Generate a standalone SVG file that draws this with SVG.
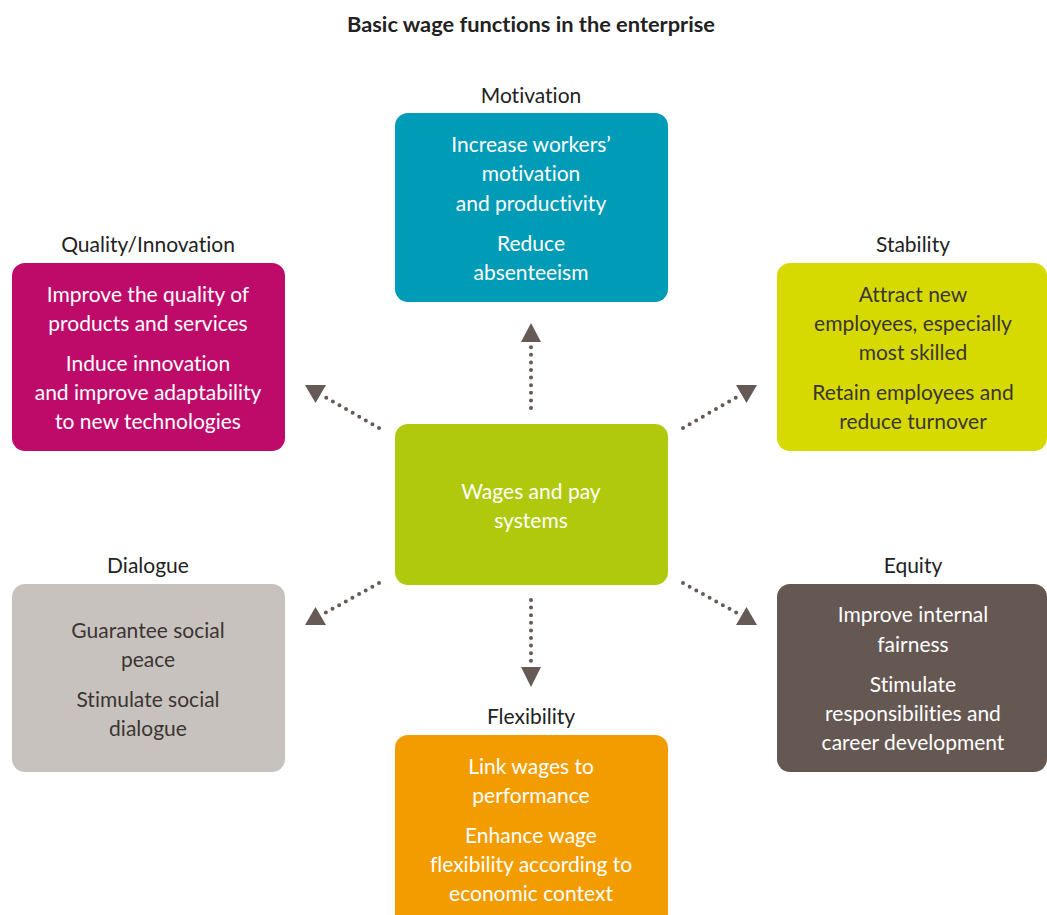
<svg xmlns="http://www.w3.org/2000/svg" width="1047" height="915" viewBox="0 0 1047 915">
<style>
text{font-variant-ligatures:none;font-feature-settings:"liga" 0,"dlig" 0}
.t{font-family:Lato,"Open Sans","Liberation Sans",sans-serif;font-size:21px;text-anchor:middle}
.w{fill:#ffffff}
.d{fill:#3b3533}
.lbl{fill:#222222}
.title{font-family:Lato,"Open Sans","Liberation Sans",sans-serif;font-size:21.8px;font-weight:bold;text-anchor:middle;fill:#222222}
.dot{fill:none;stroke:#655a55;stroke-width:4;stroke-linecap:round;stroke-dasharray:0 7.6}
.head{fill:#655a55}
</style>
<rect width="1047" height="915" fill="#ffffff"/>
<text class="title" x="531" y="32">Basic wage functions in the enterprise</text>

<g id="motivation">
<text class="t lbl" x="531" y="103">Motivation</text>
<rect x="395" y="113" width="273" height="189" rx="13" fill="#009bb6"/>
<text class="t w" x="531" y="152">Increase workers’</text>
<text class="t w" x="531" y="181">motivation</text>
<text class="t w" x="531" y="211">and productivity</text>
<text class="t w" x="531" y="251">Reduce</text>
<text class="t w" x="531" y="280">absenteeism</text>
</g>

<g id="quality">
<text class="t lbl" x="148" y="252">Quality/Innovation</text>
<rect x="12" y="263" width="273" height="188" rx="13" fill="#be0b6a"/>
<text class="t w" x="148" y="302">Improve the quality of</text>
<text class="t w" x="148" y="331">products and services</text>
<text class="t w" x="148" y="371">Induce innovation</text>
<text class="t w" x="148" y="400">and improve adaptability</text>
<text class="t w" x="148" y="429">to new technologies</text>
</g>

<g id="stability">
<text class="t lbl" x="913" y="252">Stability</text>
<rect x="777" y="263" width="270" height="188" rx="13" fill="#d6da00"/>
<text class="t d" x="913" y="302">Attract new</text>
<text class="t d" x="913" y="331">employees, especially</text>
<text class="t d" x="913" y="360">most skilled</text>
<text class="t d" x="913" y="400">Retain employees and</text>
<text class="t d" x="913" y="429">reduce turnover</text>
</g>

<g id="center">
<rect x="395" y="424" width="273" height="161" rx="13" fill="#b0c90c"/>
<text class="t w" x="531" y="499">Wages and pay</text>
<text class="t w" x="531" y="528">systems</text>
</g>

<g id="dialogue">
<text class="t lbl" x="148" y="573">Dialogue</text>
<rect x="12" y="584" width="273" height="188" rx="13" fill="#c8c2be"/>
<text class="t d" x="148" y="638">Guarantee social</text>
<text class="t d" x="148" y="667">peace</text>
<text class="t d" x="148" y="707">Stimulate social</text>
<text class="t d" x="148" y="736">dialogue</text>
</g>

<g id="equity">
<text class="t lbl" x="913" y="573">Equity</text>
<rect x="777" y="584" width="270" height="188" rx="13" fill="#655853"/>
<text class="t w" x="913" y="622">Improve internal</text>
<text class="t w" x="913" y="652">fairness</text>
<text class="t w" x="913" y="692">Stimulate</text>
<text class="t w" x="913" y="721">responsibilities and</text>
<text class="t w" x="913" y="750">career development</text>
</g>

<g id="flexibility">
<text class="t lbl" x="531" y="724">Flexibility</text>
<rect x="395" y="735" width="273" height="200" rx="13" fill="#f39c00"/>
<text class="t w" x="531" y="774">Link wages to</text>
<text class="t w" x="531" y="803">performance</text>
<text class="t w" x="531" y="843">Enhance wage</text>
<text class="t w" x="531" y="872">flexibility according to</text>
<text class="t w" x="531" y="901">economic context</text>
</g>

<g id="connectors">
<path class="dot" d="M531,408 L531,345"/>
<polygon class="head" points="521,342 541,342 531,323"/>
<path class="dot" d="M531,600 L531,664"/>
<polygon class="head" points="521,667 541,667 531,687"/>
<path class="dot" d="M379,428 L325,397"/>
<polygon class="head" points="305,385 326,385 315.5,403"/>
<path class="dot" d="M683,428 L737,397"/>
<polygon class="head" points="736,385 757,385 746.5,403"/>
<path class="dot" d="M379,583 L325,613"/>
<polygon class="head" points="305,625 326,625 315.5,607"/>
<path class="dot" d="M683,583 L737,613"/>
<polygon class="head" points="736,625 757,625 746.5,607"/>
</g>
</svg>
